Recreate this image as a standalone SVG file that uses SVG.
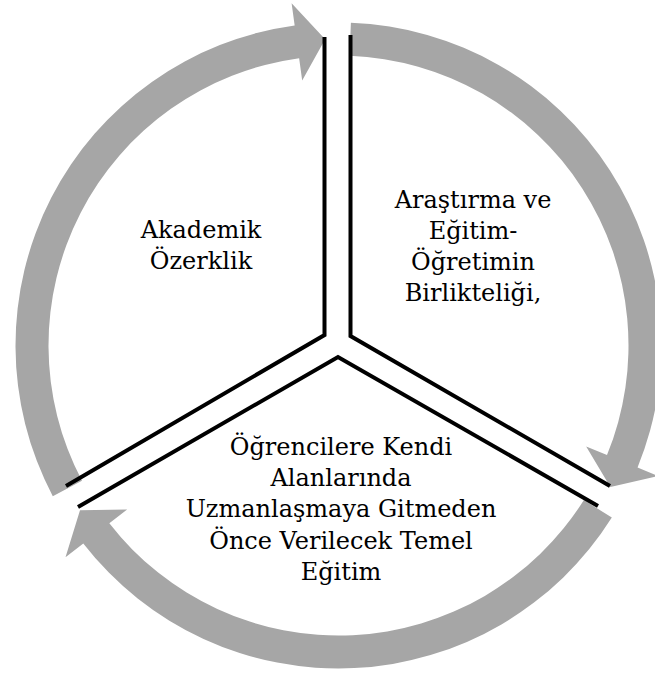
<svg xmlns="http://www.w3.org/2000/svg" width="655" height="673" viewBox="0 0 655 673">
  <style>
    .arrow { fill: #A6A6A6; stroke: none; }
    .edge { fill: none; stroke: #000000; stroke-width: 4; stroke-linejoin: miter; stroke-linecap: butt; }
    .label { font-family: "DejaVu Serif", "Liberation Serif", serif; font-size: 24px; fill: #000000; text-anchor: middle; }
  </style>
  <rect width="655" height="673" fill="#FFFFFF"/>
  <g id="connectors">
    <path class="arrow" d="M350.90,22.74 A323,323 0 0 1 637.56,467.54 L658.39,476.04 L610.37,487.03 L586.17,446.57 L607.00,455.07 A290,290 0 0 0 349.63,55.71 Z"/>
    <path class="arrow" d="M611.82,517.62 A323,323 0 0 1 83.28,543.47 L65.50,557.26 L80.00,510.18 L127.13,509.45 L109.35,523.24 A290,290 0 0 0 583.90,500.04 Z"/>
    <path class="arrow" d="M52.78,496.14 A323,323 0 0 1 294.66,25.49 L291.61,3.20 L325.13,39.29 L302.19,80.47 L299.14,58.18 A290,290 0 0 0 81.97,480.75 Z"/>
  </g>
  <g id="node-akademik">
    <polyline class="edge" points="324.5,37 324.5,335 66,486"/>
    <text class="label" x="201" y="238">Akademik</text>
    <text class="label" x="201" y="269">Özerklik</text>
  </g>
  <g id="node-arastirma">
    <polyline class="edge" points="350.5,35 350.5,336 610,486"/>
    <text class="label" x="473" y="208">Araştırma ve</text>
    <text class="label" x="473" y="239">Eğitim-</text>
    <text class="label" x="473" y="270">Öğretimin</text>
    <text class="label" x="473" y="301">Birlikteliği,</text>
  </g>
  <g id="node-temel-egitim">
    <polyline class="edge" points="78,507 338,357 598,506"/>
    <text class="label" x="341" y="455">Öğrencilere Kendi</text>
    <text class="label" x="341" y="486">Alanlarında</text>
    <text class="label" x="341" y="517">Uzmanlaşmaya Gitmeden</text>
    <text class="label" x="341" y="549">Önce Verilecek Temel</text>
    <text class="label" x="341" y="580">Eğitim</text>
  </g>
</svg>
